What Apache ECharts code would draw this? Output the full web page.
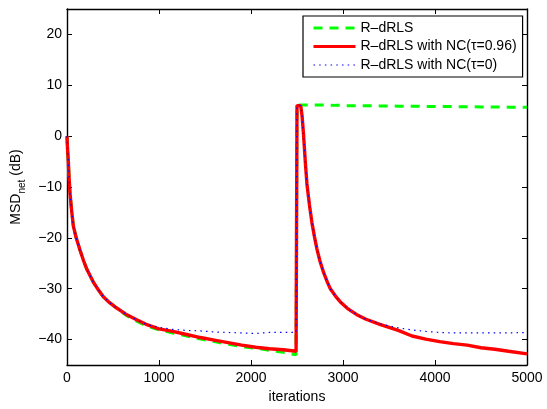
<!DOCTYPE html>
<html>
<head>
<meta charset="utf-8">
<script src="https://cdn.jsdelivr.net/npm/echarts@6/dist/echarts.min.js"></script>
<style>html,body{margin:0;padding:0;background:#fff;}#c{width:547px;height:409px;}</style>
</head>
<body>
<div id="c"></div>
<script>
const iterations = [0, 5, 14, 22, 33, 50, 69, 100, 141, 180, 214, 250, 286, 340, 395, 460, 540, 640, 757, 860,
  1000, 1150, 1300, 1450, 1600, 1750, 1900, 2050, 2200, 2350, 2490, 2500, 2540, 2555, 2571, 2590, 2608, 2635,
  2663, 2690, 2717, 2750, 2789, 2830, 2862, 2920, 2971, 3050, 3150, 3250, 3400, 3500, 3600, 3750, 3900, 4050,
  4200, 4350, 4500, 4650, 4800, 5000];

const msdRdrls = [0, -2.2, -4.8, -8, -11.3, -14.6, -17.7, -20, -22.4, -24.5, -26.1, -27.4, -28.7, -30.2, -31.6, -32.7, -33.8, -35.2, -36.4, -37.3,
  -38.1, -38.7, -39.3, -39.9, -40.4, -40.9, -41.4, -41.7, -42.1, -42.5, -43, 6.1, 6.1, 6.1, 6.1, 6.1, 6.1, 6.1,
  6.1, 6.1, 6.1, 6.1, 6.1, 6.1, 6.1, 6.05, 6.05, 6.0, 6.0, 6.0, 5.95, 5.95, 5.9, 5.9, 5.85, 5.85,
  5.8, 5.8, 5.75, 5.75, 5.7, 5.7];

const msdNc096 = [0, -2.2, -4.8, -8, -11.3, -14.6, -17.7, -20, -22.4, -24.5, -26.1, -27.4, -28.7, -30.2, -31.6, -32.7, -33.8, -35, -36.1, -37,
  -37.9, -38.4, -39, -39.6, -40.1, -40.6, -41.1, -41.5, -41.8, -42, -42.3, 6, 6, 4, 0.3, -5, -9.4, -13.5,
  -17.1, -19.8, -22.2, -24.6, -26.8, -28.7, -30, -31.5, -32.6, -33.9, -35.1, -36, -37, -37.6, -38.2, -39.3, -39.9, -40.4,
  -40.8, -41.1, -41.6, -41.9, -42.3, -42.8];

const msdNc0 = [0, -2.2, -4.8, -8, -11.3, -14.6, -17.7, -20, -22.4, -24.5, -26.1, -27.4, -28.7, -30.2, -31.6, -32.7, -33.8, -35, -36.1, -37,
  -37.6, -38, -38.2, -38.3, -38.5, -38.6, -38.7, -38.8, -38.6, -38.6, -38.6, 6, 6, 4, 0.3, -5, -9.4, -13.5,
  -17.1, -19.8, -22.2, -24.6, -26.8, -28.7, -30, -31.5, -32.6, -33.9, -35.1, -36, -36.9, -37.3, -37.7, -38.1, -38.4, -38.6,
  -38.7, -38.7, -38.7, -38.7, -38.7, -38.6];

const xTicks = [0, 1000, 2000, 3000, 4000, 5000];
const seriesNames = ['R\u2013dRLS', 'R\u2013dRLS with NC(\u03c4=0.96)', 'R\u2013dRLS with NC(\u03c4=0)'];

const zip = (ys) => iterations.map((x, i) => [x, ys[i]]);
const FONT = '"Liberation Sans", Arial, Helvetica, sans-serif';
const fmtNum = (v) => String(v).replace('-', '\u2212');

const chart = echarts.init(document.getElementById('c'), null, {renderer: 'canvas'});
const boxAxisLine = {show: true, onZero: false, lineStyle: {color: '#000', width: 1.4}};
const tick = {show: true, inside: true, length: 5, lineStyle: {color: '#000', width: 1}};

const lineStyles = [
  {color: '#00ff00', width: 3, type: [9, 7]},
  {color: '#ff0000', width: 3.4, type: 'solid'},
  {color: '#0000ff', width: 1.2, type: [1.5, 4.2]}
];

chart.setOption({
  animation: false,
  backgroundColor: '#fff',
  textStyle: {fontFamily: FONT},
  grid: {left: 67, right: 20, top: 9, bottom: 38, containLabel: false},
  legend: {
    orient: 'vertical', left: 303, top: 16,
    padding: [5, 6, 5, 9], itemGap: 4.5, itemWidth: 42, itemHeight: 14,
    backgroundColor: '#fff', borderColor: '#000', borderWidth: 1.2, borderRadius: 0,
    itemStyle: {opacity: 0},
    textStyle: {fontFamily: FONT, fontSize: 14, color: '#000'},
    data: seriesNames.map((n, i) => ({
      name: n,
      lineStyle: {color: lineStyles[i].color, width: i === 2 ? 1.2 : 3, type: lineStyles[i].type}
    }))
  },
  xAxis: [{
    type: 'value', min: 0, max: 5000, interval: 1000, position: 'bottom',
    name: 'iterations', nameLocation: 'middle', nameGap: 25,
    nameTextStyle: {fontFamily: FONT, fontSize: 14, color: '#000'},
    axisLine: boxAxisLine, axisTick: tick, splitLine: {show: false},
    axisLabel: {fontFamily: FONT, fontSize: 14, color: '#000', margin: 6,
      formatter: (v) => xTicks.includes(v) ? fmtNum(v) : ''}
  }, {
    type: 'value', min: 0, max: 5000, interval: 1000, position: 'top',
    axisLine: boxAxisLine, axisTick: tick, splitLine: {show: false}, axisLabel: {show: false}
  }],
  yAxis: [{
    type: 'value', min: -45, max: 25, splitNumber: 7, position: 'left',
    name: '{a|MSD}{b|net}{a| (dB)}', nameLocation: 'middle', nameGap: 35, nameRotate: 90,
    nameTextStyle: {
      color: '#000',
      rich: {
        a: {fontFamily: FONT, fontSize: 14, color: '#000', verticalAlign: 'middle', lineHeight: 14},
        b: {fontFamily: FONT, fontSize: 10, color: '#000', verticalAlign: 'bottom', lineHeight: 22}
      }
    },
    axisLine: boxAxisLine, axisTick: tick, splitLine: {show: false},
    axisLabel: {fontFamily: FONT, fontSize: 14, color: '#000', margin: 5,
      showMinLabel: false, showMaxLabel: false,
      formatter: (v) => (v % 10 === 0 && v > -45 && v < 25) ? fmtNum(v) : ''}
  }, {
    type: 'value', min: -45, max: 25, splitNumber: 7, position: 'right',
    axisLine: boxAxisLine, axisTick: tick, splitLine: {show: false}, axisLabel: {show: false}
  }],
  series: [{
    name: seriesNames[0], type: 'line', data: zip(msdRdrls), symbol: 'none', z: 2,
    lineStyle: lineStyles[0], itemStyle: {color: lineStyles[0].color}
  }, {
    name: seriesNames[1], type: 'line', data: zip(msdNc096), symbol: 'none', z: 3,
    lineStyle: lineStyles[1], itemStyle: {color: lineStyles[1].color}
  }, {
    name: seriesNames[2], type: 'line', data: zip(msdNc0), symbol: 'none', z: 4,
    lineStyle: lineStyles[2], itemStyle: {color: lineStyles[2].color}
  }]
});
</script>
</body>
</html>
